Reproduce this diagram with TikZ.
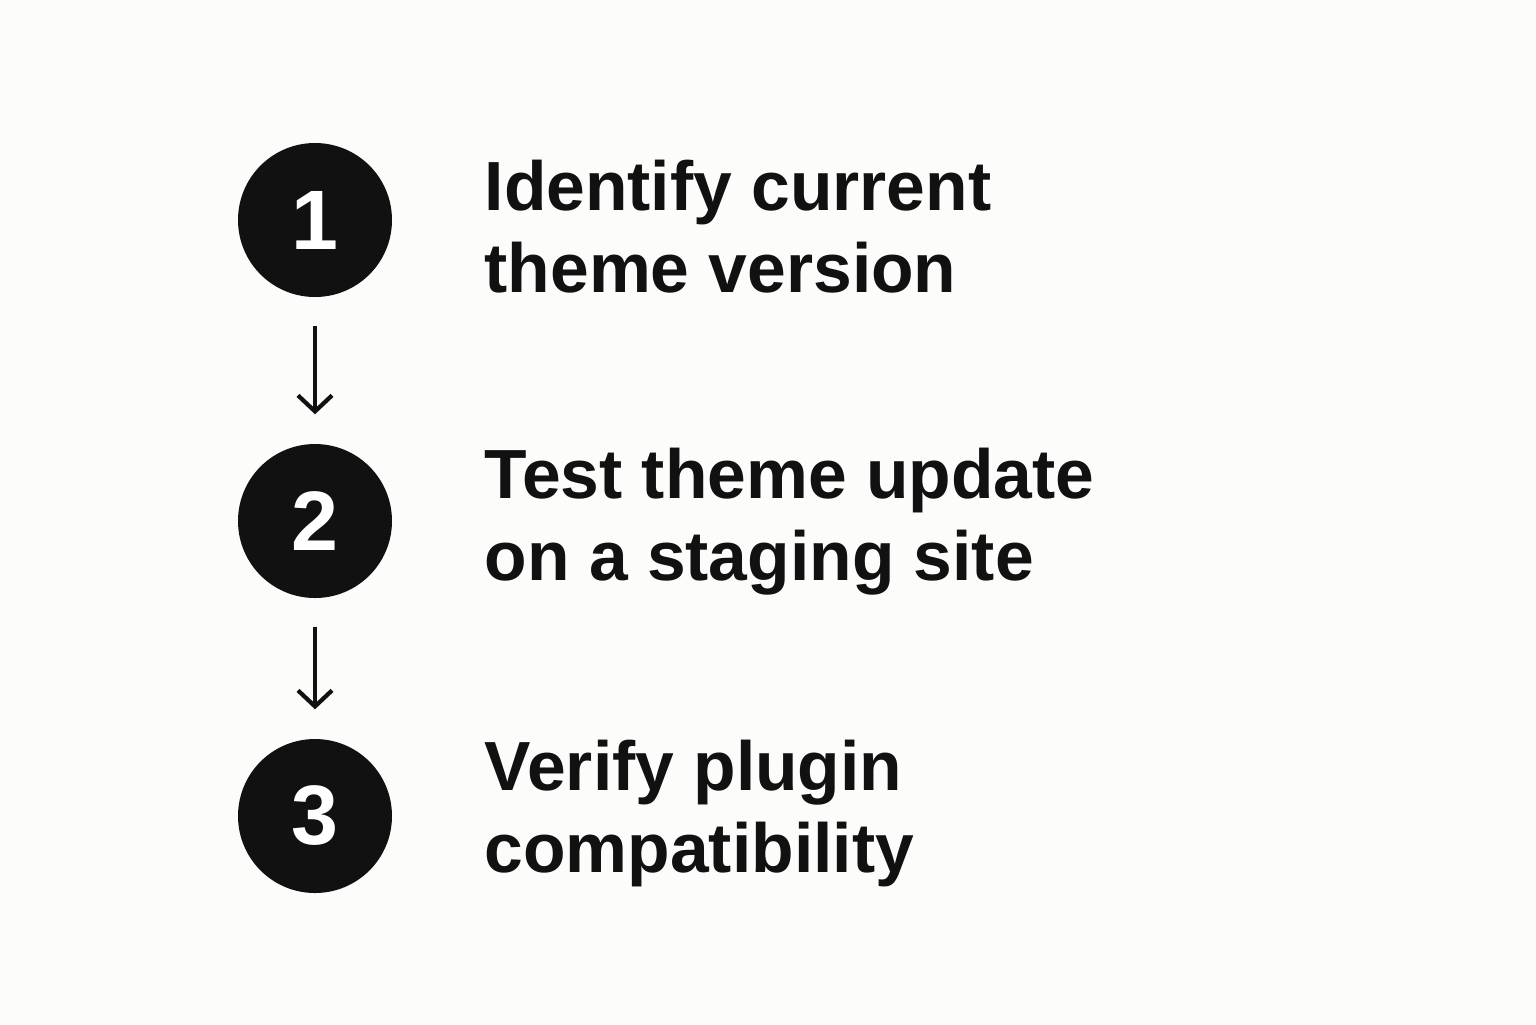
\documentclass[tikz,border=0pt]{standalone}
\usepackage{fontspec}
\setmainfont{Liberation Sans}
\usetikzlibrary{arrows.meta}
\definecolor{bgpaper}{HTML}{FCFCFA}
\definecolor{inkdark}{HTML}{111111}
\begin{document}
\begin{tikzpicture}[x=1cm,y=1cm,>={Straight Barb[length=0.16cm,width=0.34cm]}]
  \tikzstyle{stepdot}=[circle, fill=inkdark, minimum size=1.54cm, inner sep=0pt, text=white, font=\bfseries\fontsize{24}{24}\selectfont]
  \tikzstyle{arrow}=[->, line width=1.2pt, draw=inkdark, shorten <=0.28cm, shorten >=0.29cm]
  \tikzstyle{label}=[anchor=base west, inner sep=0pt, align=left, text=inkdark, font=\bfseries\fontsize{19.8}{23.3}\selectfont]

  \fill[bgpaper] (0,0) rectangle (15.36,-10.24);
  \useasboundingbox (0,0) rectangle (15.36,-10.24);

  \node[stepdot] (s1) at (3.15,-2.20) {1};
  \node[stepdot] (s2) at (3.15,-5.21) {2};
  \node[stepdot] (s3) at (3.15,-8.16) {3};

  \draw[arrow] (s1) -- (s2);
  \draw[arrow] (s2) -- (s3);

  \node[label] (t1) at (4.84,-2.92) {Identify current\\theme version};
  \node[label] (t2) at (4.84,-5.80) {Test theme update\\on a staging site};
  \node[label] (t3) at (4.84,-8.72) {Verify plugin\\compatibility};
\end{tikzpicture}
\end{document}
